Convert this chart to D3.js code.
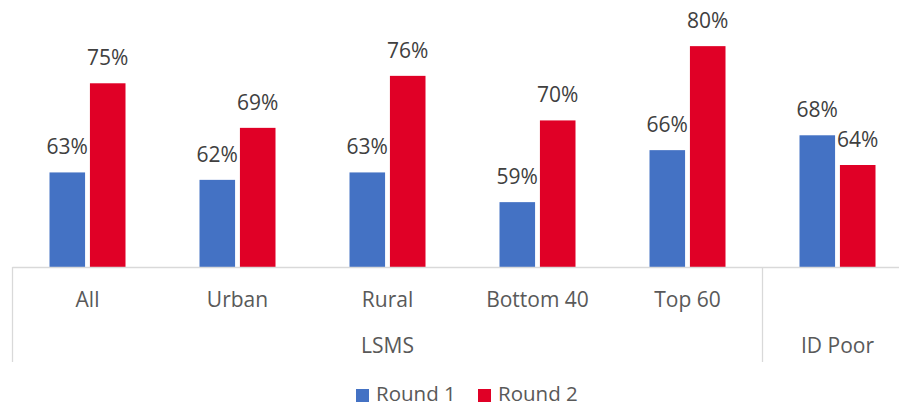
<!DOCTYPE html>
<html>
<head>
<meta charset="utf-8">
<script src="https://cdn.jsdelivr.net/npm/d3@7"></script>
<style>
  html, body { margin: 0; padding: 0; background: #fff; }
  svg { display: block; font-family: "Open Sans", "Noto Sans", sans-serif; }
</style>
</head>
<body>
<svg id="chart" width="899" height="407"></svg>
<script>
// Share of respondents by group, two survey rounds
const categories = ["All", "Urban", "Rural", "Bottom 40", "Top 60", "ID Poor"];
// Inner axis labels; the ID Poor column is named only at the group level
const categoryLabels = ["All", "Urban", "Rural", "Bottom 40", "Top 60", ""];
const groupOf = ["LSMS", "LSMS", "LSMS", "LSMS", "LSMS", "ID Poor"];
const round1 = [63, 62, 63, 59, 66, 68];
const round2 = [75, 69, 76, 70, 80, 64];
const seriesNames = ["Round 1", "Round 2"];
const seriesColors = ["#4472C4", "#E00026"];

const svg = d3.select("#chart");
const left = 12.5, right = 912.5, baseY = 267;

const x = d3.scaleBand().domain(categories).range([left, right]).paddingInner(0).paddingOuter(0);
// Value axis starts at 50%; the category axis line sits just above that floor
const y = d3.scaleLinear().domain([50, 85]).range([269, 9]);
const sub = d3.scaleBand().domain([0, 1]).range([x.bandwidth() / 2 - 38, x.bandwidth() / 2 + 38]).paddingInner(0.12);

const rows = categories.map((c, i) => ({ c, vals: [round1[i], round2[i]] }));

const g = svg.append("g");
const catG = g.selectAll("g.cat").data(rows).join("g")
  .attr("transform", d => `translate(${x(d.c)},0)`);

catG.selectAll("rect").data(d => d.vals.map((v, k) => ({ v, k }))).join("rect")
  .attr("x", d => sub(d.k))
  .attr("width", sub.bandwidth())
  .attr("y", d => y(d.v))
  .attr("height", d => baseY - y(d.v))
  .attr("fill", d => seriesColors[d.k]);

catG.selectAll("text.val").data(d => d.vals.map((v, k) => ({ v, k }))).join("text")
  .attr("class", "val")
  .attr("x", d => sub(d.k) + sub.bandwidth() / 2)
  .attr("y", d => y(d.v) - 18)
  .attr("text-anchor", "middle")
  .attr("font-size", 21)
  .attr("fill", "#404040")
  .text(d => d.v + "%");

// Category axis
const axisColor = "#D9D9D9";
g.append("line").attr("x1", left).attr("x2", 899).attr("y1", baseY + 0.5).attr("y2", baseY + 0.5)
  .attr("stroke", axisColor).attr("stroke-width", 1.3);

g.selectAll("text.cat").data(categories).join("text")
  .attr("class", "cat")
  .attr("x", d => x(d) + x.bandwidth() / 2)
  .attr("y", 307)
  .attr("text-anchor", "middle")
  .attr("font-size", 21)
  .attr("fill", "#595959")
  .text((d, i) => categoryLabels[i]);

// Group level of the axis
const groups = Array.from(d3.group(categories.map((c, i) => ({ c, grp: groupOf[i] })), d => d.grp),
  ([name, items]) => ({ name, start: x(items[0].c), end: x(items[items.length - 1].c) + x.bandwidth() }));

const dividers = [left].concat(groups.map(d => d.end));
g.selectAll("line.div").data(dividers).join("line")
  .attr("class", "div")
  .attr("x1", d => d).attr("x2", d => d)
  .attr("y1", baseY).attr("y2", 362)
  .attr("stroke", axisColor).attr("stroke-width", 1.3);

g.selectAll("text.grp").data(groups).join("text")
  .attr("class", "grp")
  .attr("x", d => (d.start + d.end) / 2)
  .attr("y", 353)
  .attr("text-anchor", "middle")
  .attr("font-size", 21)
  .attr("fill", "#595959")
  .text(d => d.name);

// Legend
const legend = svg.append("g");
const legendX = [356, 478];
seriesNames.forEach((name, k) => {
  legend.append("rect").attr("x", legendX[k]).attr("y", 389).attr("width", 13).attr("height", 13)
    .attr("fill", seriesColors[k]);
  legend.append("text").attr("x", legendX[k] + 20).attr("y", 401)
    .attr("font-size", 20.5).attr("fill", "#595959").text(name);
});
</script>
</body>
</html>
